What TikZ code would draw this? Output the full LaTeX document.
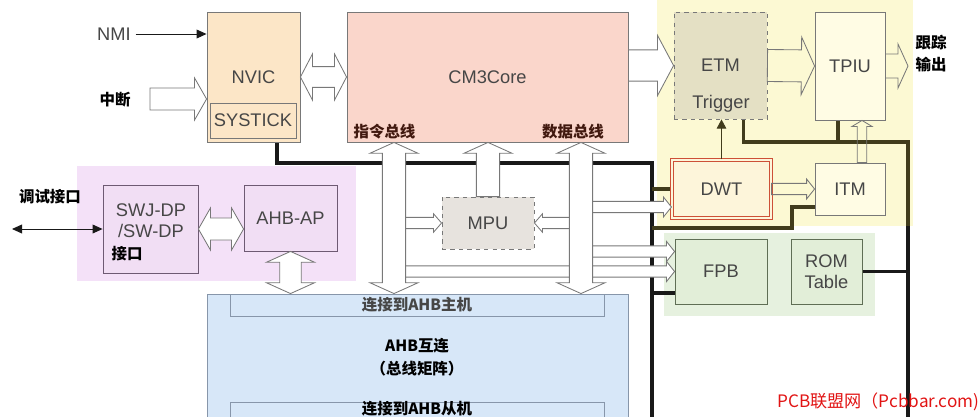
\documentclass[tikz,border=0pt]{standalone}
\usepackage{fontspec}
\setmainfont{Liberation Sans}
\newfontfamily\cjk{Noto Sans CJK SC}
\usetikzlibrary{arrows.meta, calc, backgrounds}
\definecolor{cmline}{RGB}{120,120,120}
\definecolor{cmtext}{RGB}{70,70,70}
\definecolor{cmnvic}{RGB}{252,230,199}
\definecolor{cmcore}{RGB}{250,214,203}
\definecolor{cmetm}{RGB}{228,224,196}
\definecolor{cmtrace}{RGB}{252,249,211}
\definecolor{cmtpiu}{RGB}{255,252,228}
\definecolor{cmdwt}{RGB}{253,245,218}
\definecolor{cmred}{RGB}{205,80,55}
\definecolor{cmmpu}{RGB}{231,227,222}
\definecolor{cmdebug}{RGB}{244,225,248}
\definecolor{cmdebugbox}{RGB}{241,222,244}
\definecolor{cmdebugline}{RGB}{110,90,115}
\definecolor{cmromback}{RGB}{230,241,223}
\definecolor{cmrom}{RGB}{226,238,216}
\definecolor{cmromline}{RGB}{95,110,85}
\definecolor{cmahb}{RGB}{215,231,248}
\definecolor{cmahbline}{RGB}{135,150,170}
\definecolor{cmbus}{RGB}{25,25,25}
\definecolor{cmolive}{RGB}{65,60,28}
\definecolor{cmlabel}{RGB}{65,25,15}
\definecolor{cmmark}{RGB}{225,20,20}

% hollow block arrows: [style]{from}{to}{shaft half}{head half}{head length}
\newcommand{\hollowone}[6][]{%
  \path ($(#3)!#6!(#2)$) coordinate (bp);
  \draw[hollow,#1] ($(#2)!#4!90:(#3)$) -- ($(bp)!#4!90:(#3)$) -- ($(bp)!#5!90:(#3)$)
    -- (#3) -- ($(bp)!#5!-90:(#3)$) -- ($(bp)!#4!-90:(#3)$) -- ($(#2)!#4!-90:(#3)$) -- cycle;
}
\newcommand{\hollowtwo}[6][]{%
  \path ($(#2)!#6!(#3)$) coordinate (ap) ($(#3)!#6!(#2)$) coordinate (bp);
  \draw[hollow,#1] (#2) -- ($(ap)!#5!90:(#3)$) -- ($(ap)!#4!90:(#3)$) -- ($(bp)!#4!90:(#3)$)
    -- ($(bp)!#5!90:(#3)$) -- (#3) -- ($(bp)!#5!-90:(#3)$) -- ($(bp)!#4!-90:(#3)$)
    -- ($(ap)!#4!-90:(#3)$) -- ($(ap)!#5!-90:(#3)$) -- cycle;
}

\begin{document}
\begin{tikzpicture}[
    x=0.025cm, y=-0.025cm,
    font=\fontsize{13}{15}\selectfont,
    % Styles
    box/.style={draw=cmline, line width=0.6pt, text=cmtext, align=center, inner sep=0pt},
    cnlabel/.style={font=\cjk\bfseries\fontsize{11}{15.6}\selectfont, align=center, inner sep=1pt},
    bus/.style={line width=2.8pt, draw=cmbus},
    hollow/.style={draw=cmline, line width=0.6pt, fill=white},
    thinarrow/.style={-{Triangle[length=2.5mm,width=2.2mm]}, line width=0.7pt, draw=cmbus},
    dbgarrow/.style={{Triangle[length=2.5mm,width=2.2mm]}-{Triangle[length=2.5mm,width=2.2mm]}, line width=0.7pt, draw=cmbus}
]
\useasboundingbox (0,0) rectangle (978,416);

% ----------------------------------------------------
% Processor core
% ----------------------------------------------------
\node[box, fill=cmnvic, minimum width=2.325cm, minimum height=3.25cm] (nvic) at (253.5,77) {NVIC};
\node[box, fill=cmnvic, minimum width=2.15cm, minimum height=0.875cm] (systick) at (253,120.5) {SYSTICK};
\node[box, fill=cmcore, minimum width=7.025cm, minimum height=3.25cm] (core) at (487.5,77) {CM3Core};
\node[cnlabel, text=cmlabel] (ibuslabel) at (384.5,131.5) {指令总线};
\node[cnlabel, text=cmlabel] (dbuslabel) at (573,131.5) {数据总线};
\node[box, dashed, fill=cmmpu, minimum width=2.3cm, minimum height=1.3cm] (mpu) at (488,223) {MPU};

\node[text=cmtext] (nmi) at (114,34) {NMI};
\node[cnlabel] (irq) at (115,100) {中断};
\coordinate (irqtail) at (150,99);

% ----------------------------------------------------
% Trace
% ----------------------------------------------------
\node[box, dashed, fill=cmetm, minimum width=2.325cm, minimum height=2.675cm] (etm) at (720.5,65.5) {ETM};
\node[text=cmtext] (trigger) at (721,104) {Trigger};
\node[box, fill=cmtpiu, minimum width=1.75cm, minimum height=2.7cm] (tpiu) at (850,66) {TPIU};
\node[box, draw=cmred, double=cmdwt, double distance=1.3pt, line width=0.8pt, fill=cmdwt,
      minimum width=2.475cm, minimum height=1.45cm] (dwt) at (721.5,189) {DWT};
\node[box, fill=cmtpiu, minimum width=1.75cm, minimum height=1.3cm] (itm) at (850,189) {ITM};
\node[cnlabel, align=left] (traceout) at (931,54) {跟踪\\输出};
\coordinate (tracetip) at (908,66);

% ----------------------------------------------------
% Debug
% ----------------------------------------------------
\node[box, draw=cmromline, fill=cmrom, minimum width=2.3cm, minimum height=1.625cm] (fpb) at (721,271.5) {FPB};
\node[box, draw=cmromline, fill=cmrom, minimum width=1.775cm, minimum height=1.625cm] (rom) at (826.5,271.5) {ROM\\Table};

\node[box, draw=cmdebugline, fill=cmdebugbox, minimum width=2.375cm, minimum height=2.2cm] (swj) at (150.5,229) {};
\node[text=cmtext, align=center] (swjname) at (151,220.5) {SWJ-DP\\/SW-DP};
\node[cnlabel, anchor=west] (swjport) at (110,254) {接口};
\node[box, draw=cmdebugline, fill=cmdebugbox, minimum width=2.325cm, minimum height=1.65cm] (ahbap) at (290.5,218) {AHB-AP};
\node[cnlabel] (dbg) at (50,197) {调试接口};
\coordinate (dbgend) at (12,229);

% ----------------------------------------------------
% AHB interconnect
% ----------------------------------------------------
\node[box, draw=cmahbline, fill=cmahb, minimum width=10.525cm, minimum height=4cm] (ahb) at (417.5,374) {};
\node[box, draw=cmahbline, fill=cmahb, minimum width=9.35cm, minimum height=0.55cm, cnlabel] (master) at (417,305) {连接到AHB主机};
\node[cnlabel, font=\cjk\bfseries\fontsize{11}{16.3}\selectfont] (ahbname) at (417,357.5) {AHB互连\\（总线矩阵）};
\node[box, draw=cmahbline, fill=cmahb, minimum width=9.35cm, minimum height=0.55cm] (slave) at (417,413) {};
\node[cnlabel] (slavename) at (417,408.5) {连接到AHB从机};

\node[anchor=west, text=cmmark, inner sep=0pt, font=\cjk\fontsize{12.2}{14}\selectfont] (mark) at (777,402) {PCB联盟网（Pcbbar.com)};

% ----------------------------------------------------
% Regions and bus lines
% ----------------------------------------------------
\coordinate (ibus) at (394,0);
\coordinate (dbus) at (581,0);
\coordinate (busleft) at (277,163);
\coordinate (busright) at (652,163);
\coordinate (busbottom) at (652,430);
\coordinate (itmbend) at (792,228);
\coordinate (trunktop) at (908,142);
\coordinate (trunkmid) at (908,226);
\coordinate (trunkbottom) at (908,430);
\coordinate (dwtdata) at ([yshift=-0.45cm]dwt.west);
\coordinate (fpbdata) at ([yshift=0.5cm]fpb.west);
\coordinate (itmtop) at ([xshift=0.3cm]itm.north);

\begin{scope}[on background layer]
\fill[cmtrace] (657,0) rectangle (913,226);
\fill[cmdebug] (77,166) rectangle (356,281);
\fill[cmromback] (664,233) rectangle (875,316);

\draw[bus] (nvic.south -| busleft) -- (busleft) -- (busright) -- (busbottom);
\draw[bus, draw=cmolive] (dwt.west) -- (dwt.west -| busright);
\draw[bus, draw=cmolive] ([yshift=0.2cm]itm.south west) -| (itmbend) -- (itmbend -| busright);
\draw[bus] ([yshift=0.275cm]fpb.south west) -- ([yshift=0.275cm]fpb.south west -| busright);
\draw[bus] (rom.east) -- (rom.east -| trunktop);
\draw[bus, draw=cmolive] ([xshift=0.575cm]etm.south) |- (trunktop) -- (trunkmid);
\draw[bus] (trunkmid) -- (trunkbottom);
\draw[bus, draw=cmolive] ([xshift=-0.3cm]tpiu.south) -- ([xshift=-0.3cm]tpiu.south |- trunktop);
\end{scope}

% ----------------------------------------------------
% Connections
% ----------------------------------------------------
\draw[thinarrow] (nmi.east) -- (nmi.east -| nvic.west);
\draw[dbgarrow] (dbgend) -- (swj.west);
\draw[thinarrow, draw=cmolive, -{Triangle[length=2.3mm,width=2.4mm,fill=cmolive]}] (dwt.north) -- (dwt.north |- etm.south);

\hollowone{irqtail}{irqtail -| nvic.west}{0.275cm}{0.525cm}{0.3cm}
\hollowtwo{nvic.east}{core.west}{0.26cm}{0.575cm}{0.3cm}
\hollowone{core.east |- etm.west}{etm.west}{0.39cm}{0.75cm}{0.4cm}
\hollowone[fill=none]{etm.east}{tpiu.west}{0.4cm}{0.72cm}{0.33cm}
\hollowone[fill=none]{tpiu.east}{tracetip}{0.3cm}{0.55cm}{0.25cm}
\hollowone[fill=none]{dwt.east}{itm.west}{0.14cm}{0.25cm}{0.2cm}
\hollowone[fill=none]{itmtop}{itmtop |- tpiu.south}{0.12cm}{0.25cm}{0.15cm}

% bus bands
\hollowone{mpu.west -| ibus}{mpu.west}{0.14cm}{0.23cm}{0.2cm}
\hollowone{mpu.east -| dbus}{mpu.east}{0.14cm}{0.23cm}{0.2cm}
\hollowone{fpb.west -| ibus}{fpb.west}{0.14cm}{0.25cm}{0.2cm}
\hollowone{fpbdata -| dbus}{fpbdata}{0.14cm}{0.25cm}{0.2cm}
\hollowone{dwtdata -| dbus}{dwtdata}{0.14cm}{0.25cm}{0.2cm}

% instruction / data bus
\hollowtwo{core.south -| ibus}{ahb.north -| ibus}{0.29cm}{0.6cm}{0.27cm}
\hollowone{mpu.north}{core.south -| mpu.north}{0.29cm}{0.6cm}{0.27cm}
\hollowtwo{core.south -| dbus}{ahb.north -| dbus}{0.29cm}{0.6cm}{0.27cm}

% debug access
\hollowtwo{swj.east}{ahbap.west |- swj.east}{0.275cm}{0.525cm}{0.3cm}
\hollowtwo{ahbap.south}{ahb.north -| ahbap.south}{0.27cm}{0.6cm}{0.27cm}

\end{tikzpicture}
\end{document}
